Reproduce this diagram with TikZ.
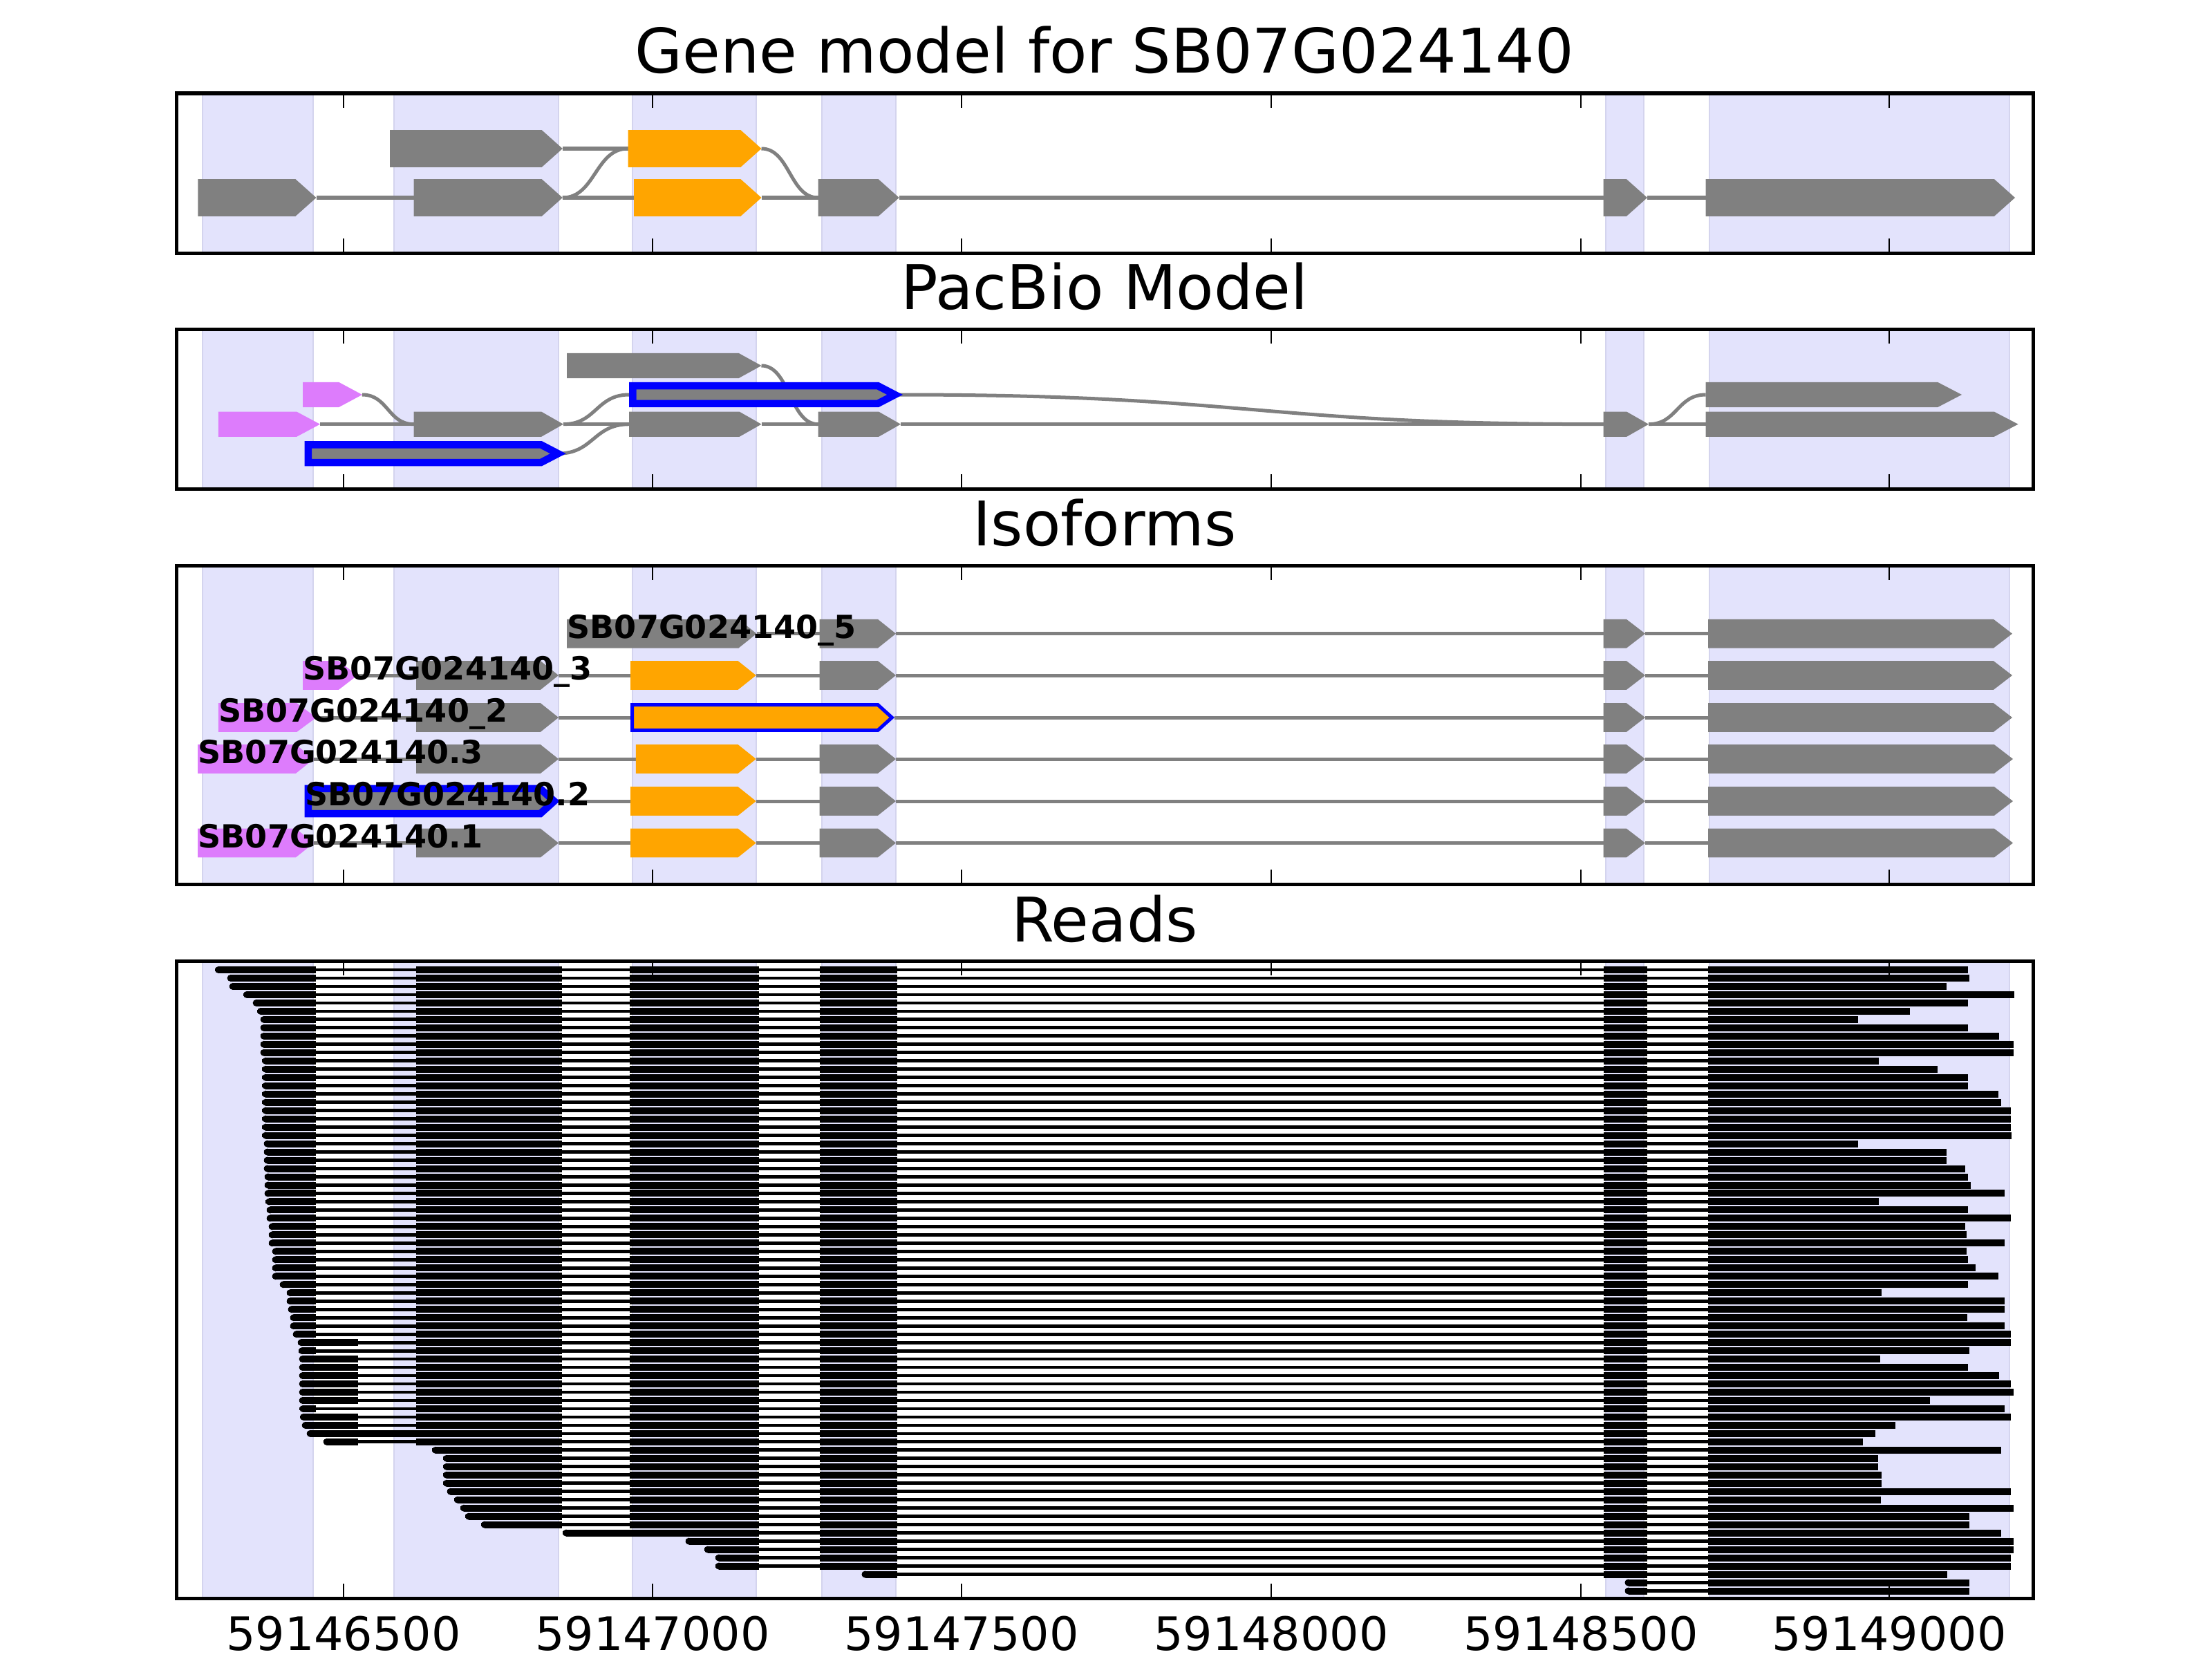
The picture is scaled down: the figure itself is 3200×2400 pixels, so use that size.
\documentclass[tikz,border=0pt]{standalone}
\usepackage{fontspec}
\setmainfont{DejaVu Sans}
\definecolor{gr}{RGB}{128,128,128}
\definecolor{org}{RGB}{255,165,0}
\definecolor{vio}{RGB}{221,124,252}
\definecolor{bandc}{RGB}{227,227,252}
\definecolor{bandedge}{RGB}{212,212,238}
\newcommand\pent[5]{(#1,{#3-#4}) -- ({#2-#5},{#3-#4}) -- (#2,#3) -- ({#2-#5},{#3+#4}) -- (#1,{#3+#4}) -- cycle}
\newcommand\sig[4]{(#1,#2) .. controls ({(#1+#3)/2},#2) and ({(#1+#3)/2},#4) .. (#3,#4)}
\newcommand\bandset[2]{\foreach \ba/\bb in {292.6/452.6,569.7/808.2,914.8/1093.7,1189/1295.8,2323/2377.7,2473/2906.5}{\filldraw[fill=bandc,draw=bandedge,line width=0.02cm] (\ba,#1) rectangle (\bb,#2);}}
\newcommand\frameticks[2]{\foreach \tx in {497,944,1391,1839,2287,2733}{\draw[tk] (\tx,#1) -- ++(0,21); \draw[tk] (\tx,#2) -- ++(0,-21);}\draw[frm] (255,#1) rectangle (2941,#2);}
\tikzset{
  intr/.style={draw=gr,line width=0.05cm},
  rdl/.style={draw=black,line width=0.048cm},
  tk/.style={draw=black,line width=0.028cm},
  frm/.style={draw=black,line width=0.05cm},
  ttl/.style={anchor=base,inner sep=0pt,font=\fontsize{25.3}{30}\selectfont},
  tlab/.style={anchor=base,inner sep=0pt,font=\fontsize{18.97}{22}\selectfont},
  isolab/.style={anchor=base west,inner sep=0pt,font=\fontsize{13.1}{15}\selectfont\bfseries},
}
\begin{document}
\begin{tikzpicture}[x=0.01cm,y=-0.01cm]
\useasboundingbox[fill=white] (0,0) rectangle (3200,2400);

% ---------------- Panel 1: Gene model ----------------
\node[ttl] (t1) at (1598,106) {Gene model for SB07G024140};
\bandset{135}{366}
\draw[intr] (813.8,215) -- (908.5,215);
\draw[intr] (457.5,286) -- (598.5,286);
\draw[intr] (813.8,286) -- (917,286);
\draw[intr] (1101.5,286) -- (1183.5,286);
\draw[intr] (1300.7,286) -- (2319.5,286);
\draw[intr] (2383,286) -- (2467.6,286);
\draw[intr] \sig{813.8}{286}{908.5}{215};
\draw[intr] \sig{1101.5}{215}{1183.5}{286};
\fill[gr] \pent{564}{813.8}{215}{26.8}{30};
\fill[org] \pent{908.5}{1101.5}{215}{26.8}{30};
\fill[gr] \pent{286.3}{457.5}{286}{26.8}{30};
\fill[gr] \pent{598.5}{813.8}{286}{26.8}{30};
\fill[org] \pent{917}{1101.5}{286}{26.8}{30};
\fill[gr] \pent{1183.5}{1300.7}{286}{26.8}{30};
\fill[gr] \pent{2319.5}{2383}{286}{26.8}{30};
\fill[gr] \pent{2467.6}{2915}{286}{26.8}{30};
\frameticks{135}{366}

% ---------------- Panel 2: PacBio Model ----------------
\node[ttl] (t2) at (1598,447) {PacBio Model};
\bandset{476}{707}
\draw[intr] (463,613.7) -- (598.5,613.7);
\draw[intr] (815,613.7) -- (910,613.7);
\draw[intr] (1101.5,613.7) -- (1183.5,613.7);
\draw[intr] (1303,613.7) -- (2319.5,613.7);
\draw[intr] (2385,613.7) -- (2467.6,613.7);
\draw[intr] \sig{524}{571}{598.5}{613.7};
\draw[intr] \sig{815}{613.7}{910}{571};
\draw[intr] \sig{807}{656.2}{910}{613.7};
\draw[intr] \sig{1101.5}{529}{1183.5}{613.7};
\draw[intr] \sig{1300}{571}{2319.5}{613.7};
\draw[intr] \sig{2385}{613.7}{2467.6}{571};
\fill[gr] \pent{820}{1101.5}{529}{18.2}{33};
\fill[vio] \pent{438}{524}{571}{18.2}{34};
\filldraw[fill=gr,draw=blue,line width=0.105cm] \pent{915.3}{1294.6}{571}{12.9}{24.8};
\fill[gr] \pent{2467.6}{2838}{571}{18.2}{35};
\fill[vio] \pent{315.8}{463}{613.7}{18.2}{34};
\fill[gr] \pent{598.5}{815}{613.7}{18.2}{32};
\fill[gr] \pent{910}{1101.5}{613.7}{18.2}{32};
\fill[gr] \pent{1183.5}{1303}{613.7}{18.2}{32};
\fill[gr] \pent{2319.5}{2385}{613.7}{18.2}{32};
\fill[gr] \pent{2467.6}{2919.6}{613.7}{18.2}{35};
\filldraw[fill=gr,draw=blue,line width=0.105cm] \pent{445.9}{807.3}{656.2}{12.9}{24.8};
\frameticks{476}{707}

% ---------------- Panel 3: Isoforms ----------------
\node[ttl] (t3) at (1598,789) {Isoforms};
\bandset{818}{1279}
% row _5
\draw[intr] (1094.5,916.7) -- (1185.6,916.7);
\draw[intr] (1296,916.7) -- (2319.5,916.7);
\draw[intr] (2380,916.7) -- (2471,916.7);
\fill[gr] \pent{820}{1094.5}{916.7}{20.8}{26};
\fill[gr] \pent{1185.6}{1296}{916.7}{20.8}{26};
\fill[gr] \pent{2319.5}{2380}{916.7}{20.8}{27};
\fill[gr] \pent{2471}{2911}{916.7}{20.8}{27};
% row _3
\draw[intr] (517,977) -- (602,977);
\draw[intr] (808,977) -- (912,977);
\draw[intr] (1093.7,977) -- (1185.6,977);
\draw[intr] (1296,977) -- (2319.5,977);
\draw[intr] (2380,977) -- (2471,977);
\fill[vio] \pent{438}{517}{977}{20.8}{27};
\fill[gr] \pent{602}{808}{977}{20.8}{26};
\fill[org] \pent{912}{1093.7}{977}{20.8}{26};
\fill[gr] \pent{1185.6}{1296}{977}{20.8}{26};
\fill[gr] \pent{2319.5}{2380}{977}{20.8}{27};
\fill[gr] \pent{2471}{2911}{977}{20.8}{27};
% row _2
\draw[intr] (457.5,1038) -- (602,1038);
\draw[intr] (808,1038) -- (912,1038);
\draw[intr] (1294,1038) -- (2319.5,1038);
\draw[intr] (2380,1038) -- (2471,1038);
\fill[vio] \pent{315.8}{457.5}{1038}{20.8}{28};
\fill[gr] \pent{602}{808}{1038}{20.8}{26};
\filldraw[fill=org,draw=blue,line width=0.05cm] \pent{914.5}{1290.3}{1038}{18.3}{20.2};
\fill[gr] \pent{2319.5}{2380}{1038}{20.8}{27};
\fill[gr] \pent{2471}{2911}{1038}{20.8}{27};
% row .3
\draw[intr] (454,1098) -- (602,1098);
\draw[intr] (808,1098) -- (919.8,1098);
\draw[intr] (1093.7,1098) -- (1185.6,1098);
\draw[intr] (1296,1098) -- (2319.5,1098);
\draw[intr] (2380,1098) -- (2471,1098);
\fill[vio] \pent{286}{454}{1098}{20.8}{26};
\fill[gr] \pent{602}{808}{1098}{20.8}{26};
\fill[org] \pent{919.8}{1093.7}{1098}{20.8}{26};
\fill[gr] \pent{1185.6}{1296}{1098}{20.8}{26};
\fill[gr] \pent{2319.5}{2380}{1098}{20.8}{27};
\fill[gr] \pent{2471}{2912}{1098}{20.8}{27};
% row .2
\draw[intr] (805,1159) -- (912,1159);
\draw[intr] (1093.7,1159) -- (1185.6,1159);
\draw[intr] (1296,1159) -- (2319.5,1159);
\draw[intr] (2380,1159) -- (2471,1159);
\filldraw[fill=gr,draw=blue,line width=0.105cm] \pent{445.9}{801.7}{1159}{18.05}{20.1};
\fill[org] \pent{912}{1093.7}{1159}{20.8}{26};
\fill[gr] \pent{1185.6}{1296}{1159}{20.8}{26};
\fill[gr] \pent{2319.5}{2380}{1159}{20.8}{27};
\fill[gr] \pent{2471}{2912}{1159}{20.8}{27};
% row .1
\draw[intr] (454,1219.5) -- (602,1219.5);
\draw[intr] (808,1219.5) -- (912,1219.5);
\draw[intr] (1093.7,1219.5) -- (1185.6,1219.5);
\draw[intr] (1296,1219.5) -- (2319.5,1219.5);
\draw[intr] (2380,1219.5) -- (2471,1219.5);
\fill[vio] \pent{286}{454}{1219.5}{20.8}{26};
\fill[gr] \pent{602}{808}{1219.5}{20.8}{26};
\fill[org] \pent{912}{1093.7}{1219.5}{20.8}{26};
\fill[gr] \pent{1185.6}{1296}{1219.5}{20.8}{26};
\fill[gr] \pent{2319.5}{2380}{1219.5}{20.8}{27};
\fill[gr] \pent{2471}{2912}{1219.5}{20.8}{27};
% labels
\node[isolab] (l5) at (820,923) {SB07G024140\_5};
\node[isolab] (l3) at (438,983.5) {SB07G024140\_3};
\node[isolab] (l2) at (315.8,1044.5) {SB07G024140\_2};
\node[isolab] (lp3) at (286,1104.5) {SB07G024140.3};
\node[isolab] (lp2) at (440.6,1165.5) {SB07G024140.2};
\node[isolab] (lp1) at (286,1226) {SB07G024140.1};
\frameticks{818}{1279}

% ---------------- Panel 4: Reads ----------------
\node[ttl] (t4) at (1598,1362) {Reads};
\bandset{1390}{2312}
\foreach \i/\s/\fe/\k/\e in {
0/311/457/2/2847, 1/328.7/457/2/2849, 2/331.7/457/2/2816, 3/352/457/2/2914,
4/365.7/457/2/2847, 5/372/457/2/2763, 6/376.7/457/2/2688, 7/376.7/457/2/2847,
8/376.7/457/2/2892, 9/376.7/457/2/2913, 10/376.7/457/2/2913, 11/379.3/457/2/2718,
12/379.3/457/2/2803, 13/379.3/457/2/2847, 14/379.3/457/2/2847, 15/379.3/457/2/2891,
16/379.3/457/2/2895, 17/379.3/457/2/2909, 18/379.3/457/2/2909, 19/379.3/457/2/2909,
20/379.3/457/2/2910, 21/381.7/457/2/2688, 22/381.7/457/2/2816, 23/381.7/457/2/2816,
24/381.7/457/2/2843, 25/382.7/457/2/2847, 26/382.7/457/2/2851, 27/382.7/457/2/2900,
28/384.3/457/2/2718, 29/385.7/457/2/2847, 30/385.7/457/2/2909, 31/388.7/457/2/2843,
32/388.7/457/2/2845, 33/388.7/457/2/2900, 34/393.7/457/2/2845, 35/393.7/457/2/2847,
36/393.7/457/2/2858, 37/393.7/457/2/2891, 38/404.7/457/2/2847, 39/414.7/457/2/2722,
40/414.7/457/2/2900, 41/416.7/457/2/2900, 42/419.7/457/2/2846, 43/419.7/457/2/2900,
44/423.7/457/2/2909, 45/430.7/517.5/2/2909, 46/432/457/2/2849, 47/432.7/517.5/2/2720,
48/432.7/517.5/2/2847, 49/432.7/517.5/2/2892, 50/432.7/517.5/2/2909, 51/432.7/517.5/2/2913,
52/432.7/517.5/2/2792, 53/433.3/457/2/2900, 54/434/517.5/2/2909, 55/436.7/517.5/2/2742,
56/443.7/812.5/3/2713, 57/467.7/517.5/2/2695, 58/625/812.5/3/2895, 59/641/812.5/3/2717,
60/641/812.5/3/2717, 61/641/812.5/3/2722, 62/641/812.5/3/2722, 63/646.7/812.5/3/2909,
64/657/812.5/3/2721, 65/666/812.5/3/2913, 66/673/812.5/3/2849, 67/696/812.5/3/2849,
68/814/1098/4/2895, 69/991.6/1098/4/2913, 70/1018.8/1098/4/2913, 71/1034.9/1098/4/2909,
72/1034.9/1098/4/2909, 73/1246.5/1298/5/2817, 74/2350.5/2383/6/2849, 75/2350.5/2383/6/2849}{
  \pgfmathsetmacro\y{1403+11.98*\i}
  \draw[rdl] (\s,\y) -- (\e,\y);
  \fill (\s+5,\y-5) rectangle (\fe,\y+5);
  \fill (\s+5,\y) circle[radius=5];
  \ifnum\k<3 \fill (601.5,\y-5) rectangle (812.5,\y+5); \fi
  \ifnum\k<4 \fill (911,\y-5) rectangle (1098,\y+5); \fi
  \ifnum\k<5 \fill (1186,\y-5) rectangle (1298,\y+5); \fi
  \ifnum\k<6 \fill (2320,\y-5) rectangle (2383,\y+5); \fi
  \fill (2470.5,\y-5) rectangle (\e,\y+5);
}
\frameticks{1390}{2312}
\foreach \tx/\tl in {497/59146500,944/59147000,1391/59147500,1839/59148000,2287/59148500,2733/59149000}{
  \node[tlab] at (\tx,2387) {\tl};
}
\end{tikzpicture}
\end{document}
